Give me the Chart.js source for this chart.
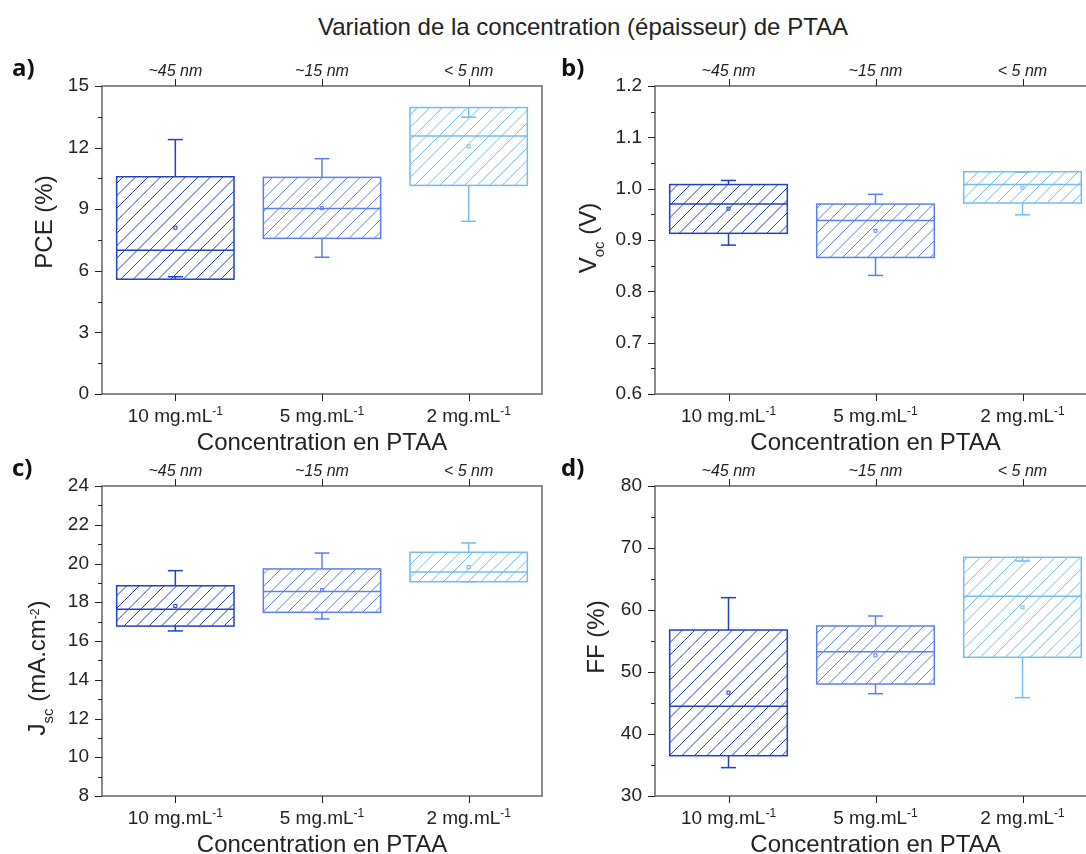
<!DOCTYPE html>
<html>
<head>
<meta charset="utf-8">
<script src="https://cdn.jsdelivr.net/npm/chart.js@4.4.1/dist/chart.umd.min.js"></script>
<style>
  html, body { margin: 0; padding: 0; background: #fff; overflow: hidden; width: 1086px; height: 854px; }
  canvas { position: absolute; left: 0; top: 0; }
  #title { position: absolute; left: 83px; top: 15px; width: 1000px; text-align: center;
           font: 24px/24px 'Liberation Sans', Arial, sans-serif; color: #222; white-space: nowrap; }
</style>
</head>
<body>
<div id="title">Variation de la concentration (épaisseur) de PTAA</div>
<canvas id="cA" width="1100" height="854"></canvas>
<canvas id="cB" width="1100" height="854"></canvas>
<canvas id="cC" width="1100" height="854"></canvas>
<canvas id="cD" width="1100" height="854"></canvas>
<script>
const categories = ['10 mg.mL', '5 mg.mL', '2 mg.mL'];
const catExponent = '-1';
const thickness = ['~45 nm', '~15 nm', '< 5 nm'];
const boxColors = ['#1f40c8', '#5b7ff0', '#74bcf0'];

// PCE (%)
const pceQ1 = [5.59, 7.58, 10.16];
const pceQ3 = [10.58, 10.55, 13.95];
const pceMedian = [7.0, 9.03, 12.57];
const pceMin = [5.71, 6.66, 8.41];
const pceMax = [12.39, 11.46, 13.48];
const pceMean = [8.1, 9.05, 12.06];
const pceAxis = [0, 15, 3];

// Voc (V)
const vocQ1 = [0.913, 0.866, 0.972];
const vocQ3 = [1.008, 0.970, 1.033];
const vocMedian = [0.970, 0.938, 1.008];
const vocMin = [0.890, 0.831, 0.949];
const vocMax = [1.016, 0.989, 1.032];
const vocMean = [0.961, 0.918, 1.002];
const vocAxis = [0.6, 1.2, 0.1];

// Jsc (mA.cm-2)
const jscQ1 = [16.77, 17.48, 19.06];
const jscQ3 = [18.85, 19.72, 20.58];
const jscMedian = [17.64, 18.55, 19.56];
const jscMin = [16.52, 17.14, 19.06];
const jscMax = [19.63, 20.54, 21.06];
const jscMean = [17.81, 18.63, 19.82];
const jscAxis = [8, 24, 2];

// FF (%)
const ffQ1 = [36.5, 48.06, 52.37];
const ffQ3 = [56.77, 57.42, 68.5];
const ffMedian = [44.47, 53.28, 62.2];
const ffMin = [34.57, 46.5, 45.86];
const ffMax = [61.99, 59.03, 67.9];
const ffMean = [46.67, 52.69, 60.43];
const ffAxis = [30, 80, 10];

const FONT = "'Liberation Sans', Arial, sans-serif";
Chart.defaults.font.family = FONT;
const W = 1100, H = 854;

const panels = [
  { id: 'cA', area: [102, 86, 542, 394], letter: 'a)', letterAt: [12, 76],
    yTitle: [['PCE (%)', 0]], yTitleAt: [52, 222], axis: pceAxis, dec: 0,
    s: { q1: pceQ1, q3: pceQ3, med: pceMedian, lo: pceMin, hi: pceMax, mean: pceMean } },
  { id: 'cB', area: [655, 86, 1096, 394], letter: 'b)', letterAt: [561, 76],
    yTitle: [['V', 0], ['oc', 1], [' (V)', 0]], yTitleAt: [596, 238], axis: vocAxis, dec: 1,
    s: { q1: vocQ1, q3: vocQ3, med: vocMedian, lo: vocMin, hi: vocMax, mean: vocMean } },
  { id: 'cC', area: [102, 486, 542, 796], letter: 'c)', letterAt: [12, 476],
    yTitle: [['J', 0], ['sc', 1], [' (mA.cm', 0], ['-2', -1], [')', 0]], yTitleAt: [45, 668], axis: jscAxis, dec: 0,
    s: { q1: jscQ1, q3: jscQ3, med: jscMedian, lo: jscMin, hi: jscMax, mean: jscMean } },
  { id: 'cD', area: [655, 486, 1096, 796], letter: 'd)', letterAt: [561, 476],
    yTitle: [['FF (%)', 0]], yTitleAt: [604, 637], axis: ffAxis, dec: 0,
    s: { q1: ffQ1, q3: ffQ3, med: ffMedian, lo: ffMin, hi: ffMax, mean: ffMean } }
];

function seg(ctx, x1, y1, x2, y2) {
  ctx.beginPath(); ctx.moveTo(x1, y1); ctx.lineTo(x2, y2); ctx.stroke();
}

function boxPlugin(p) {
  return {
    id: 'box_' + p.id,
    afterDatasetsDraw(chart) {
      const ctx = chart.ctx, y = chart.scales.y;
      chart.getDatasetMeta(0).data.forEach((bar, i) => {
        const half = bar.width / 2;
        const col = boxColors[i];
        // diagonal hatch inside the box
        const top = Math.min(bar.y, bar.base), bot = Math.max(bar.y, bar.base);
        const x0 = bar.x - half, x1 = bar.x + half;
        ctx.save();
        ctx.beginPath();
        ctx.rect(x0, top, x1 - x0, bot - top);
        ctx.clip();
        ctx.strokeStyle = col;
        ctx.lineWidth = 1;
        const step = 12.5;
        for (let k = Math.floor((x0 + top) / step) * step; k <= x1 + bot; k += step) {
          seg(ctx, k - bot, bot, k - top, top);
        }
        ctx.restore();

        ctx.save();
        ctx.strokeStyle = col;
        ctx.lineWidth = 1.5;
        ctx.strokeRect(x0, top, x1 - x0, bot - top);
        const yMed = y.getPixelForValue(p.s.med[i]);
        seg(ctx, x0, yMed, x1, yMed);
        const yQ1 = y.getPixelForValue(p.s.q1[i]), yQ3 = y.getPixelForValue(p.s.q3[i]);
        const yLo = y.getPixelForValue(p.s.lo[i]), yHi = y.getPixelForValue(p.s.hi[i]);
        seg(ctx, bar.x, yQ3, bar.x, yHi);
        seg(ctx, bar.x - 7.5, yHi, bar.x + 7.5, yHi);
        seg(ctx, bar.x, yQ1, bar.x, yLo);
        seg(ctx, bar.x - 7.5, yLo, bar.x + 7.5, yLo);
        const yMean = y.getPixelForValue(p.s.mean[i]);
        ctx.lineWidth = 1;
        ctx.strokeRect(bar.x - 1.5, yMean - 1.5, 3, 3);
        ctx.restore();
      });
    },
    afterDraw(chart) {
      const ctx = chart.ctx, a = chart.chartArea, x = chart.scales.x, x2 = chart.scales.x2, y = chart.scales.y;
      ctx.save();
      // frame
      ctx.strokeStyle = '#666';
      ctx.lineWidth = 1.5;
      ctx.strokeRect(a.left, a.top, a.right - a.left, a.bottom - a.top);
      // ticks
      ctx.strokeStyle = '#222';
      ctx.lineWidth = 1;
      y.ticks.forEach(t => {
        const py = Math.round(y.getPixelForValue(t.value)) + 0.5;
        const len = t.label ? 7 : 4;
        seg(ctx, a.left - len, py, a.left, py);
      });
      categories.forEach((c, i) => {
        const px = Math.round(x.getPixelForValue(i)) + 0.5;
        seg(ctx, px, a.bottom, px, a.bottom + 7);
        seg(ctx, px, a.top, px, a.top - 7);
      });
      ctx.fillStyle = '#222';
      ctx.textBaseline = 'alphabetic';
      // thickness labels on top axis
      ctx.font = 'italic 16px ' + FONT;
      ctx.textAlign = 'center';
      thickness.forEach((t, i) => ctx.fillText(t, x2.getPixelForValue(i), a.top - 10));
      // category labels with exponent
      ctx.textAlign = 'left';
      categories.forEach((c, i) => {
        const px = x.getPixelForValue(i);
        ctx.font = '19px ' + FONT;
        const w1 = ctx.measureText(c).width;
        ctx.font = '12px ' + FONT;
        const w2 = ctx.measureText(catExponent).width;
        const x0 = px - (w1 + w2) / 2;
        ctx.font = '19px ' + FONT;
        ctx.fillText(c, x0, a.bottom + 28);
        ctx.font = '12px ' + FONT;
        ctx.fillText(catExponent, x0 + w1, a.bottom + 21);
      });
      // x title
      ctx.font = '24px ' + FONT;
      ctx.textAlign = 'center';
      ctx.fillText('Concentration en PTAA', (a.left + a.right) / 2, a.bottom + 56);
      // y title (rotated, with sub/superscripts)
      ctx.translate(p.yTitleAt[0], p.yTitleAt[1]);
      ctx.rotate(-Math.PI / 2);
      ctx.textAlign = 'left';
      const fontFor = k => (k === 0 ? '24px ' : k === 1 ? '15px ' : '12px ') + FONT;
      let total = 0;
      p.yTitle.forEach(([t, k]) => { ctx.font = fontFor(k); total += ctx.measureText(t).width; });
      let cx = -total / 2;
      p.yTitle.forEach(([t, k]) => {
        ctx.font = fontFor(k);
        ctx.fillText(t, cx, k === 1 ? 8 : k === -1 ? -6 : 0);
        cx += ctx.measureText(t).width;
      });
      ctx.restore();
      // panel letter
      ctx.save();
      ctx.fillStyle = '#111';
      ctx.font = "bold 24px 'Open Sans', sans-serif";
      ctx.textAlign = 'left';
      ctx.fillText(p.letter, p.letterAt[0], p.letterAt[1]);
      ctx.restore();
    }
  };
}

panels.forEach(p => {
  const [L, T, R, B] = p.area;
  const yW = 70, topH = 40, botH = 50;
  const [lo, hi, major] = p.axis;
  const isMajor = v => Math.abs(v / major - Math.round(v / major)) < 1e-6;
  new Chart(document.getElementById(p.id), {
    type: 'bar',
    data: {
      labels: categories,
      datasets: [{
        data: p.s.q1.map((v, i) => [v, p.s.q3[i]]),
        backgroundColor: 'rgba(255,255,255,0)',
        borderColor: boxColors,
        borderWidth: 0,
        borderSkipped: false,
        barPercentage: 0.8,
        categoryPercentage: 1
      }]
    },
    options: {
      responsive: false,
      animation: false,
      events: [],
      layout: { padding: { left: L - yW, top: T - topH, right: W - R, bottom: H - B - botH } },
      plugins: { legend: { display: false }, tooltip: { enabled: false } },
      scales: {
        x: {
          type: 'category', offset: true,
          grid: { display: false, drawTicks: false }, border: { display: false },
          ticks: { display: false },
          afterFit: s => { s.height = botH; }
        },
        x2: {
          type: 'category', position: 'top', labels: thickness, offset: true,
          grid: { display: false, drawTicks: false }, border: { display: false },
          ticks: { display: false },
          afterFit: s => { s.height = topH; }
        },
        y: {
          min: lo, max: hi,
          grid: { display: false, drawTicks: false }, border: { display: false },
          ticks: {
            stepSize: major / 2, autoSkip: false, color: '#222', font: { size: 19 }, padding: 13,
            callback: v => isMajor(v) ? v.toFixed(p.dec) : ''
          },
          afterFit: s => { s.width = yW; }
        }
      }
    },
    plugins: [boxPlugin(p)]
  });
});
</script>
</body>
</html>
